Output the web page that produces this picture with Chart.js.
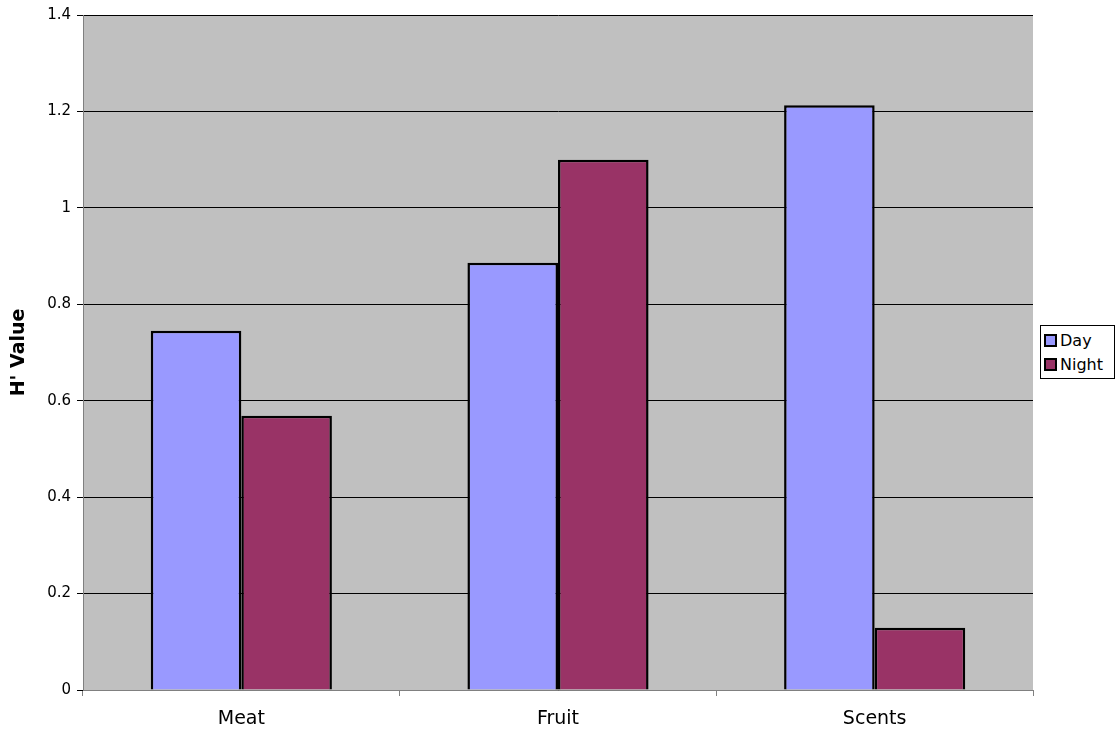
<!DOCTYPE html>
<html>
<head>
<meta charset="utf-8">
<script src="https://cdn.jsdelivr.net/npm/chart.js@4/dist/chart.umd.min.js"></script>
<style>
  html, body { margin: 0; padding: 0; background: #fff; }
  #wrap { position: relative; width: 1120px; height: 742px; }
  #legend {
    position: absolute; left: 1040px; top: 325px; width: 75px; height: 54px;
    border: 1px solid #000; background: #fff; box-sizing: border-box;
    font-family: "DejaVu Sans", Verdana, sans-serif; font-size: 16px; color: #000;
    padding: 2px 0 0 3px;
  }
  .item { display: flex; align-items: center; height: 24px; }
  .sw { width: 9px; height: 9px; border: 2px solid #000; margin-right: 3px; }
</style>
</head>
<body>
<div id="wrap">
  <canvas id="grafico" width="1120" height="742"></canvas>
  <div id="legend"></div>
</div>
<script>
const categorias = ["Meat", "Fruit", "Scents"];
const valoresDia = [0.745, 0.886, 1.213];
const valoresNoite = [0.569, 1.1, 0.129];
const nomesSeries = ["Day", "Night"];
const coresSeries = ["#9999FF", "#993366"];

// fundo cinza da área do gráfico
const fundoPlugin = {
  id: "fundo",
  beforeDraw(chart) {
    const a = chart.chartArea;
    const ctx = chart.ctx;
    ctx.save();
    ctx.fillStyle = "#C0C0C0";
    ctx.fillRect(a.left, a.top, a.right - a.left, a.bottom - a.top);
    ctx.restore();
  }
};

const ctx = document.getElementById("grafico").getContext("2d");
new Chart(ctx, {
  type: "bar",
  data: {
    labels: categorias,
    datasets: [
      { label: nomesSeries[0], data: valoresDia, backgroundColor: coresSeries[0], borderColor: "#000", borderWidth: 2.5 },
      { label: nomesSeries[1], data: valoresNoite, backgroundColor: coresSeries[1], borderColor: "#000", borderWidth: 2.5 }
    ]
  },
  options: {
    responsive: false,
    animation: false,
    layout: { padding: { top: 15, right: 87, left: 0, bottom: 0 } },
    datasets: { bar: { categoryPercentage: 0.572, barPercentage: 1 } },
    plugins: { legend: { display: false }, tooltip: { enabled: false } },
    scales: {
      x: {
        offset: true,
        grid: { offset: true, drawOnChartArea: false, drawTicks: true, tickLength: 6, color: "#808080" },
        border: { color: "#808080", width: 1 },
        ticks: { color: "#000", padding: 12, font: { family: "DejaVu Sans", size: 19 } },
        afterFit(s) { s.height = 52; }
      },
      y: {
        min: 0, max: 1.4,
        ticks: { stepSize: 0.2, color: "#000", padding: 6, font: { family: "DejaVu Sans", size: 15 },
          callback: (v) => Math.round(v * 10) / 10 },
        grid: { color: "#000", tickLength: 6, drawTicks: true },
        border: { color: "#808080", width: 1 },
        title: { display: true, text: "H' Value", color: "#000", padding: { top: 8, bottom: 0 },
          font: { family: "DejaVu Sans", size: 19, weight: "bold" } },
        afterFit(s) { s.width = 83; }
      }
    }
  },
  plugins: [fundoPlugin]
});

// legenda
const legenda = document.getElementById("legend");
nomesSeries.forEach((nome, i) => {
  const item = document.createElement("div");
  item.className = "item";
  const sw = document.createElement("span");
  sw.className = "sw";
  sw.style.background = coresSeries[i];
  const t = document.createElement("span");
  t.textContent = nome;
  item.appendChild(sw);
  item.appendChild(t);
  legenda.appendChild(item);
});
</script>
</body>
</html>
